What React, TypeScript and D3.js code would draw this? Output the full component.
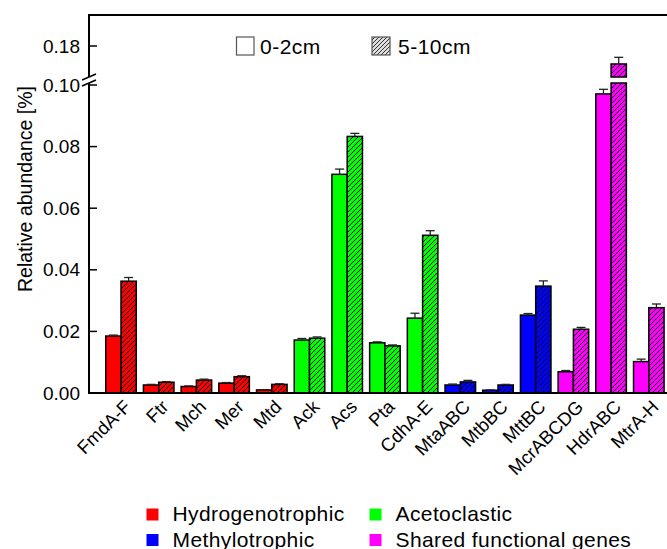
import React from "react";
import * as d3 from "d3";

const categories = ["FmdA-F", "Ftr", "Mch", "Mer", "Mtd", "Ack", "Acs", "Pta", "CdhA-E", "MtaABC", "MtbBC", "MttBC", "McrABCDG", "HdrABC", "MtrA-H"];
const groupOf = [0, 0, 0, 0, 0, 1, 1, 1, 1, 2, 2, 2, 3, 3, 3];
const shallow = [0.0185, 0.0026, 0.0021, 0.0032, 0.0010, 0.0172, 0.0710, 0.0163, 0.0243, 0.0026, 0.0009, 0.0253, 0.0069, 0.0971, 0.0102];
const shallowErr = [0.0003, 0.0002, 0.0002, 0.0002, 0.0001, 0.0005, 0.0017, 0.0003, 0.0016, 0.0003, 0.0001, 0.0005, 0.0004, 0.0015, 0.0008];
const deep = [0.0363, 0.0035, 0.0042, 0.0053, 0.0028, 0.0178, 0.0833, 0.0153, 0.0512, 0.0036, 0.0026, 0.0347, 0.0207, 0.1684, 0.0277];
const deepErr = [0.0012, 0.0002, 0.0003, 0.0003, 0.0002, 0.0004, 0.0010, 0.0003, 0.0015, 0.0005, 0.0002, 0.0017, 0.0006, 0.0043, 0.0012];
const groupNames = ["Hydrogenotrophic", "Acetoclastic", "Methylotrophic", "Shared functional genes"];
const groupColors = ["#ff0000", "#00ff00", "#0000ff", "#ff00ff"];
const depthNames = ["0-2cm", "5-10cm"];
const lowTicks = [0, 0.02, 0.04, 0.06, 0.08, 0.1];
const highTicks = [0.18];

const FONT = "'Liberation Sans', Arial, Helvetica, sans-serif";

export default function App() {
  const W = 667, H = 549;
  const left = 89, top = 15, bottom = 393;
  const lowTopPx = 83, highBottomPx = 77;
  const yLow = d3.scaleLinear().domain([0, 0.1]).range([bottom, 85]);
  const yHigh = d3.scaleLinear().domain([0.16, 0.2]).range([highBottomPx, top]);
  const lowMax = yLow.invert(lowTopPx);
  const x = d3.scaleBand<string>().domain(categories).range([102.15, 667.65]).paddingInner(0.19).paddingOuter(0.095);
  const bw = x.bandwidth() / 2;
  const fmt = d3.format(".2f");

  const yOf = (v: number) => (v <= lowMax ? yLow(v) : yHigh(v));

  const bars: React.ReactNode[] = [];
  categories.forEach((c, i) => {
    const col = groupColors[groupOf[i]];
    [0, 1].forEach((k) => {
      const v = k === 0 ? shallow[i] : deep[i];
      const e = k === 0 ? shallowErr[i] : deepErr[i];
      const bx = (x(c) as number) + k * bw;
      const pieces: [number, number][] = [];
      if (v <= lowMax) {
        pieces.push([yLow(v), yLow(0)]);
      } else {
        pieces.push([lowTopPx, yLow(0)]);
        pieces.push([yHigh(v), highBottomPx]);
      }
      pieces.forEach(([y0, y1], j) => {
        bars.push(<rect key={`b${i}${k}${j}`} x={bx} y={y0} width={bw} height={y1 - y0} fill={col} />);
        if (k === 1) bars.push(<rect key={`h${i}${k}${j}`} x={bx} y={y0} width={bw} height={y1 - y0} fill="url(#hatch)" />);
        bars.push(<rect key={`o${i}${k}${j}`} x={bx} y={y0} width={bw} height={y1 - y0} fill="none" stroke="#000" strokeWidth={1.5} />);
      });
      const cx = bx + bw / 2;
      const yt = yOf(v), ye = yOf(v + e);
      bars.push(
        <g key={`e${i}${k}`} stroke="#222" strokeWidth={1.3}>
          <line x1={cx} x2={cx} y1={yt} y2={ye} />
          <line x1={cx - 4.5} x2={cx + 4.5} y1={ye} y2={ye} />
        </g>
      );
    });
  });

  return (
    <svg width={W} height={H} style={{ position: "absolute", left: 0, top: 0, background: "#fff" }} fontFamily={FONT}>
      <defs>
        <pattern id="hatch" patternUnits="userSpaceOnUse" width={5} height={5}>
          <path d="M-1,1 l2,-2 M0,5 l5,-5 M4,6 l2,-2" stroke="#000" strokeWidth={1} />
        </pattern>
        <pattern id="hatchLeg" patternUnits="userSpaceOnUse" width={4} height={4}>
          <rect width={4} height={4} fill="#ddd" />
          <path d="M-1,1 l2,-2 M0,4 l4,-4 M3,5 l2,-2" stroke="#333" strokeWidth={1} />
        </pattern>
      </defs>
      {bars}
      {/* axes */}
      <line x1={left} x2={680} y1={top} y2={top} stroke="#000" strokeWidth={2} />
      <line x1={left} x2={left} y1={top - 1} y2={highBottomPx} stroke="#000" strokeWidth={2} />
      <line x1={left} x2={left} y1={lowTopPx} y2={bottom + 1} stroke="#000" strokeWidth={2} />
      <line x1={left - 1} x2={680} y1={bottom} y2={bottom} stroke="#000" strokeWidth={2} />
      {/* break marks */}
      <line x1={left - 7} x2={left + 7} y1={highBottomPx + 3} y2={highBottomPx - 3} stroke="#000" strokeWidth={1.5} />
      <line x1={left - 7} x2={left + 7} y1={lowTopPx + 3} y2={lowTopPx - 3} stroke="#000" strokeWidth={1.5} />
      {lowTicks.map((t) => (
        <g key={`lt${t}`}>
          <line x1={left} x2={left + 8} y1={yLow(t)} y2={yLow(t)} stroke="#000" strokeWidth={1.5} />
          <text x={80} y={yLow(t)} dy="0.35em" textAnchor="end" fontSize={19}>{fmt(t)}</text>
        </g>
      ))}
      {highTicks.map((t) => (
        <g key={`ht${t}`}>
          <line x1={left} x2={left + 8} y1={yHigh(t)} y2={yHigh(t)} stroke="#000" strokeWidth={1.5} />
          <text x={80} y={yHigh(t)} dy="0.35em" textAnchor="end" fontSize={19}>{fmt(t)}</text>
        </g>
      ))}
      {categories.map((c) => {
        const cx = (x(c) as number) + x.bandwidth() / 2 + 11;
        const cy = bottom + 15;
        return (
          <text key={`xl${c}`} x={cx} y={cy} textAnchor="end" fontSize={18.5} transform={`rotate(-45 ${cx} ${cy})`}>{c}</text>
        );
      })}
      <text x={0} y={0} transform="translate(32,189) rotate(-90)" textAnchor="middle" fontSize={19.5}>Relative abundance [%]</text>
      {/* depth legend */}
      <rect x={236.5} y={37} width={17.5} height={18} fill="#fff" stroke="#555" strokeWidth={1.2} />
      <text x={260} y={54} fontSize={21} letterSpacing={0.5}>{depthNames[0]}</text>
      <rect x={372} y={37} width={18} height={18} fill="url(#hatchLeg)" stroke="#555" strokeWidth={1.2} />
      <text x={398} y={54} fontSize={21} letterSpacing={0.5}>{depthNames[1]}</text>
      {/* group legend */}
      {groupNames.map((g, i) => {
        const col = i % 2;
        const row = Math.floor(i / 2);
        const lx = col === 0 ? 146.5 : 369.5;
        const ly = 521 + row * 25.5;
        return (
          <g key={`gl${g}`}>
            <rect x={lx} y={ly - 12.5} width={12} height={12} fill={groupColors[i]} />
            <text x={lx + 26} y={ly} fontSize={21} letterSpacing={0.4}>{g}</text>
          </g>
        );
      })}
    </svg>
  );
}
